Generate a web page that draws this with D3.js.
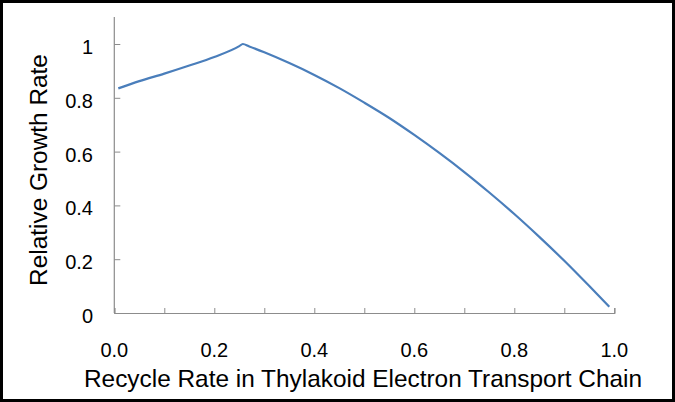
<!DOCTYPE html>
<html><head><meta charset="utf-8">
<script src="https://cdn.jsdelivr.net/npm/d3@7"></script>
<style>body{margin:0;background:#fff}svg{display:block}text{font-family:"Liberation Sans",Arial,sans-serif;fill:#000}</style>
</head><body><svg id="c" width="675" height="402"></svg>
<script>
const recycleRate = [0.008,0.05,0.10,0.15,0.20,0.25,0.257,0.27,0.30,0.35,0.40,0.45,0.50,0.55,0.60,0.65,0.70,0.75,0.80,0.85,0.90,0.95,0.99];
const growthRate  = [0.835,0.862,0.890,0.920,0.952,0.992,1.000,0.991,0.969,0.929,0.885,0.836,0.782,0.725,0.662,0.595,0.524,0.448,0.368,0.283,0.194,0.100,0.023];
const xTicks = [0,0.1,0.2,0.3,0.4,0.5,0.6,0.7,0.8,0.9,1.0];
const xTickLabels = ["0.0","","0.2","","0.4","","0.6","","0.8","","1.0"];
const yTicks = [0,0.2,0.4,0.6,0.8,1];
const yTickLabels = ["0","0.2","0.4","0.6","0.8","1"];

const svg = d3.select("#c");
svg.append("rect").attr("x",1.5).attr("y",1.5).attr("width",672).attr("height",399)
  .attr("fill","#fff").attr("stroke","#000").attr("stroke-width",3);

const x = d3.scaleLinear().domain([0,1]).range([114.3,614.3]);
const y = d3.scaleLinear().domain([0,1.1]).range([313,17.1]);
const axisColor = "#8c8c8c";

// y axis
const gy = svg.append("g").attr("transform",`translate(${x(0)},0)`)
  .call(d3.axisLeft(y).tickValues(yTicks).tickSize(-6).tickFormat(""));
gy.select(".domain").remove();
gy.selectAll("line").attr("stroke",axisColor);
svg.append("line").attr("x1",x(0)).attr("x2",x(0)).attr("y1",y(0)).attr("y2",y(1.1)).attr("stroke",axisColor).attr("stroke-width",1.2);
svg.append("g").selectAll("text").data(yTicks).join("text")
  .attr("x",93).attr("y",d=>y(d)+3).attr("dy","0.35em").attr("text-anchor","end")
  .attr("font-size",20).text((d,i)=>yTickLabels[i]);

// x axis
const gx = svg.append("g").attr("transform",`translate(0,${y(0)})`)
  .call(d3.axisBottom(x).tickValues(xTicks).tickSize(-5).tickFormat(""));
gx.select(".domain").attr("stroke",axisColor).attr("stroke-width",1.2);
gx.selectAll("line").attr("stroke",axisColor);
svg.append("g").selectAll("text").data(xTicks).join("text")
  .attr("x",d=>x(d)).attr("y",357).attr("text-anchor","middle")
  .attr("font-size",20).text((d,i)=>xTickLabels[i]);

// titles
svg.append("text").attr("x",363).attr("y",387).attr("text-anchor","middle")
  .attr("font-size",24.4).text("Recycle Rate in Thylakoid Electron Transport Chain");
svg.append("text").attr("transform","translate(47,170) rotate(-90)").attr("text-anchor","middle")
  .attr("font-size",24.4).text("Relative Growth Rate");

// line
const data = recycleRate.map((r,i)=>({r, g: growthRate[i]}));
svg.append("path").datum(data).attr("fill","none").attr("stroke","#4a7ebb").attr("stroke-width",2.2)
  .attr("stroke-linejoin","round")
  .attr("d", d3.line().x(d=>x(d.r)).y(d=>y(d.g)).curve(d3.curveMonotoneX));
</script></body></html>
